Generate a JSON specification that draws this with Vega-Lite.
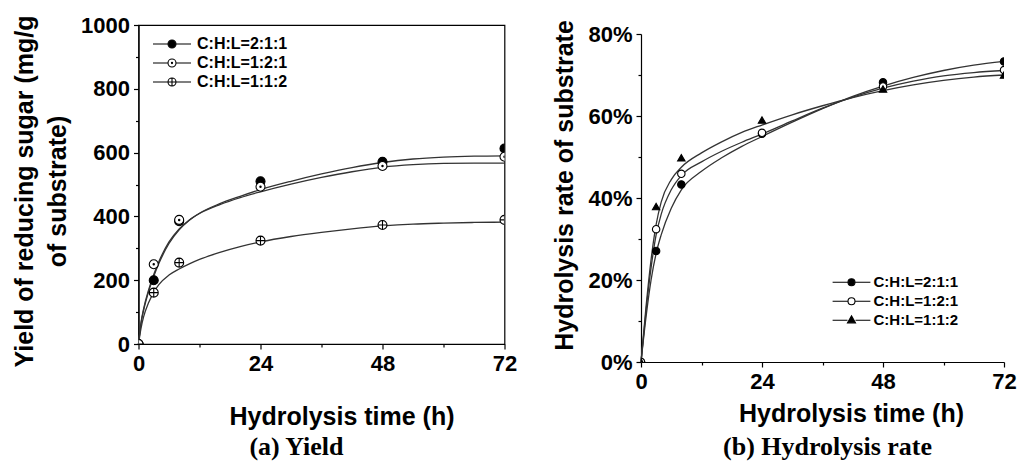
{
  "$schema": "https://vega.github.io/schema/vega-lite/v6.json",
  "background": "white",
  "padding": {"left": 11.5, "top": 13, "right": 5, "bottom": 0},
  "spacing": 27.5,
  "config": {
    "view": {"stroke": "black", "strokeWidth": 1.2},
    "axis": {
      "labelFont": "Liberation Sans", "labelFontWeight": "bold", "labelFontSize": 22, "labelColor": "black",
      "titleFont": "Liberation Sans", "titleFontWeight": "bold", "titleFontSize": 25, "titleColor": "black",
      "domainColor": "black", "domainWidth": 1.2, "tickColor": "black", "tickWidth": 1.2,
      "grid": false, "labelOverlap": false, "labelFlush": false, "labelBound": false
    }
  },
  "datasets": {
    "yieldPts": [
      {"s": "C:H:L=2:1:1", "t": 0, "v": 0}, {"s": "C:H:L=2:1:1", "t": 3, "v": 200}, {"s": "C:H:L=2:1:1", "t": 8, "v": 385}, {"s": "C:H:L=2:1:1", "t": 24, "v": 510}, {"s": "C:H:L=2:1:1", "t": 48, "v": 571}, {"s": "C:H:L=2:1:1", "t": 72, "v": 613},
      {"s": "C:H:L=1:2:1", "t": 0, "v": 0}, {"s": "C:H:L=1:2:1", "t": 3, "v": 250}, {"s": "C:H:L=1:2:1", "t": 8, "v": 389}, {"s": "C:H:L=1:2:1", "t": 24, "v": 493}, {"s": "C:H:L=1:2:1", "t": 48, "v": 558}, {"s": "C:H:L=1:2:1", "t": 72, "v": 587},
      {"s": "C:H:L=1:1:2", "t": 0, "v": 0}, {"s": "C:H:L=1:1:2", "t": 3, "v": 161}, {"s": "C:H:L=1:1:2", "t": 8, "v": 255}, {"s": "C:H:L=1:1:2", "t": 24, "v": 324}, {"s": "C:H:L=1:1:2", "t": 48, "v": 373}, {"s": "C:H:L=1:1:2", "t": 72, "v": 389}
    ],
    "yieldCurve": [
      {"s": "C:H:L=2:1:1", "t": 0, "v": 0}, {"s": "C:H:L=2:1:1", "t": 0.5, "v": 65}, {"s": "C:H:L=2:1:1", "t": 1, "v": 105}, {"s": "C:H:L=2:1:1", "t": 2, "v": 165}, {"s": "C:H:L=2:1:1", "t": 3, "v": 212}, {"s": "C:H:L=2:1:1", "t": 4, "v": 252}, {"s": "C:H:L=2:1:1", "t": 6, "v": 315}, {"s": "C:H:L=2:1:1", "t": 8, "v": 358}, {"s": "C:H:L=2:1:1", "t": 10, "v": 388}, {"s": "C:H:L=2:1:1", "t": 12, "v": 410}, {"s": "C:H:L=2:1:1", "t": 16, "v": 440}, {"s": "C:H:L=2:1:1", "t": 20, "v": 463}, {"s": "C:H:L=2:1:1", "t": 24, "v": 484}, {"s": "C:H:L=2:1:1", "t": 30, "v": 510}, {"s": "C:H:L=2:1:1", "t": 36, "v": 533}, {"s": "C:H:L=2:1:1", "t": 42, "v": 553}, {"s": "C:H:L=2:1:1", "t": 48, "v": 569}, {"s": "C:H:L=2:1:1", "t": 54, "v": 580}, {"s": "C:H:L=2:1:1", "t": 60, "v": 586}, {"s": "C:H:L=2:1:1", "t": 66, "v": 589}, {"s": "C:H:L=2:1:1", "t": 72, "v": 590},
      {"s": "C:H:L=1:2:1", "t": 0, "v": 0}, {"s": "C:H:L=1:2:1", "t": 0.5, "v": 68}, {"s": "C:H:L=1:2:1", "t": 1, "v": 110}, {"s": "C:H:L=1:2:1", "t": 2, "v": 170}, {"s": "C:H:L=1:2:1", "t": 3, "v": 218}, {"s": "C:H:L=1:2:1", "t": 4, "v": 258}, {"s": "C:H:L=1:2:1", "t": 6, "v": 320}, {"s": "C:H:L=1:2:1", "t": 8, "v": 361}, {"s": "C:H:L=1:2:1", "t": 10, "v": 389}, {"s": "C:H:L=1:2:1", "t": 12, "v": 409}, {"s": "C:H:L=1:2:1", "t": 16, "v": 437}, {"s": "C:H:L=1:2:1", "t": 20, "v": 459}, {"s": "C:H:L=1:2:1", "t": 24, "v": 477}, {"s": "C:H:L=1:2:1", "t": 30, "v": 501}, {"s": "C:H:L=1:2:1", "t": 36, "v": 522}, {"s": "C:H:L=1:2:1", "t": 42, "v": 540}, {"s": "C:H:L=1:2:1", "t": 48, "v": 554}, {"s": "C:H:L=1:2:1", "t": 54, "v": 562}, {"s": "C:H:L=1:2:1", "t": 60, "v": 566}, {"s": "C:H:L=1:2:1", "t": 66, "v": 567}, {"s": "C:H:L=1:2:1", "t": 72, "v": 567},
      {"s": "C:H:L=1:1:2", "t": 0, "v": 0}, {"s": "C:H:L=1:1:2", "t": 0.5, "v": 50}, {"s": "C:H:L=1:1:2", "t": 1, "v": 85}, {"s": "C:H:L=1:1:2", "t": 2, "v": 130}, {"s": "C:H:L=1:1:2", "t": 3, "v": 162}, {"s": "C:H:L=1:1:2", "t": 4, "v": 186}, {"s": "C:H:L=1:1:2", "t": 6, "v": 216}, {"s": "C:H:L=1:1:2", "t": 8, "v": 235}, {"s": "C:H:L=1:1:2", "t": 10, "v": 251}, {"s": "C:H:L=1:1:2", "t": 12, "v": 265}, {"s": "C:H:L=1:1:2", "t": 16, "v": 287}, {"s": "C:H:L=1:1:2", "t": 20, "v": 305}, {"s": "C:H:L=1:1:2", "t": 24, "v": 320}, {"s": "C:H:L=1:1:2", "t": 30, "v": 337}, {"s": "C:H:L=1:1:2", "t": 36, "v": 350}, {"s": "C:H:L=1:1:2", "t": 42, "v": 361}, {"s": "C:H:L=1:1:2", "t": 48, "v": 370}, {"s": "C:H:L=1:1:2", "t": 54, "v": 376}, {"s": "C:H:L=1:1:2", "t": 60, "v": 379}, {"s": "C:H:L=1:1:2", "t": 66, "v": 381}, {"s": "C:H:L=1:1:2", "t": 72, "v": 382}
    ],
    "ratePts": [
      {"s": "C:H:L=2:1:1", "t": 0, "v": 0}, {"s": "C:H:L=2:1:1", "t": 3, "v": 0.271}, {"s": "C:H:L=2:1:1", "t": 8, "v": 0.433}, {"s": "C:H:L=2:1:1", "t": 24, "v": 0.557}, {"s": "C:H:L=2:1:1", "t": 48, "v": 0.682}, {"s": "C:H:L=2:1:1", "t": 72, "v": 0.733},
      {"s": "C:H:L=1:2:1", "t": 0, "v": 0}, {"s": "C:H:L=1:2:1", "t": 3, "v": 0.324}, {"s": "C:H:L=1:2:1", "t": 8, "v": 0.459}, {"s": "C:H:L=1:2:1", "t": 24, "v": 0.559}, {"s": "C:H:L=1:2:1", "t": 48, "v": 0.672}, {"s": "C:H:L=1:2:1", "t": 72, "v": 0.712},
      {"s": "C:H:L=1:1:2", "t": 0, "v": 0}, {"s": "C:H:L=1:1:2", "t": 3, "v": 0.379}, {"s": "C:H:L=1:1:2", "t": 8, "v": 0.498}, {"s": "C:H:L=1:1:2", "t": 24, "v": 0.59}, {"s": "C:H:L=1:1:2", "t": 48, "v": 0.666}, {"s": "C:H:L=1:1:2", "t": 72, "v": 0.70}
    ],
    "rateCurve": [
      {"s": "C:H:L=2:1:1", "t": 0, "v": 0}, {"s": "C:H:L=2:1:1", "t": 1, "v": 0.11}, {"s": "C:H:L=2:1:1", "t": 2, "v": 0.20}, {"s": "C:H:L=2:1:1", "t": 3, "v": 0.265}, {"s": "C:H:L=2:1:1", "t": 4, "v": 0.31}, {"s": "C:H:L=2:1:1", "t": 6, "v": 0.375}, {"s": "C:H:L=2:1:1", "t": 8, "v": 0.42}, {"s": "C:H:L=2:1:1", "t": 12, "v": 0.465}, {"s": "C:H:L=2:1:1", "t": 16, "v": 0.498}, {"s": "C:H:L=2:1:1", "t": 20, "v": 0.526}, {"s": "C:H:L=2:1:1", "t": 24, "v": 0.55}, {"s": "C:H:L=2:1:1", "t": 30, "v": 0.585}, {"s": "C:H:L=2:1:1", "t": 36, "v": 0.618}, {"s": "C:H:L=2:1:1", "t": 42, "v": 0.648}, {"s": "C:H:L=2:1:1", "t": 48, "v": 0.673}, {"s": "C:H:L=2:1:1", "t": 54, "v": 0.694}, {"s": "C:H:L=2:1:1", "t": 60, "v": 0.711}, {"s": "C:H:L=2:1:1", "t": 66, "v": 0.724}, {"s": "C:H:L=2:1:1", "t": 72, "v": 0.733},
      {"s": "C:H:L=1:2:1", "t": 0, "v": 0}, {"s": "C:H:L=1:2:1", "t": 1, "v": 0.125}, {"s": "C:H:L=1:2:1", "t": 2, "v": 0.23}, {"s": "C:H:L=1:2:1", "t": 3, "v": 0.31}, {"s": "C:H:L=1:2:1", "t": 4, "v": 0.36}, {"s": "C:H:L=1:2:1", "t": 6, "v": 0.42}, {"s": "C:H:L=1:2:1", "t": 8, "v": 0.455}, {"s": "C:H:L=1:2:1", "t": 12, "v": 0.488}, {"s": "C:H:L=1:2:1", "t": 16, "v": 0.514}, {"s": "C:H:L=1:2:1", "t": 20, "v": 0.536}, {"s": "C:H:L=1:2:1", "t": 24, "v": 0.556}, {"s": "C:H:L=1:2:1", "t": 30, "v": 0.588}, {"s": "C:H:L=1:2:1", "t": 36, "v": 0.619}, {"s": "C:H:L=1:2:1", "t": 42, "v": 0.646}, {"s": "C:H:L=1:2:1", "t": 48, "v": 0.668}, {"s": "C:H:L=1:2:1", "t": 54, "v": 0.685}, {"s": "C:H:L=1:2:1", "t": 60, "v": 0.698}, {"s": "C:H:L=1:2:1", "t": 66, "v": 0.706}, {"s": "C:H:L=1:2:1", "t": 72, "v": 0.711},
      {"s": "C:H:L=1:1:2", "t": 0, "v": 0}, {"s": "C:H:L=1:1:2", "t": 1, "v": 0.135}, {"s": "C:H:L=1:1:2", "t": 2, "v": 0.25}, {"s": "C:H:L=1:1:2", "t": 3, "v": 0.335}, {"s": "C:H:L=1:1:2", "t": 4, "v": 0.39}, {"s": "C:H:L=1:1:2", "t": 6, "v": 0.445}, {"s": "C:H:L=1:1:2", "t": 8, "v": 0.475}, {"s": "C:H:L=1:1:2", "t": 12, "v": 0.51}, {"s": "C:H:L=1:1:2", "t": 16, "v": 0.537}, {"s": "C:H:L=1:1:2", "t": 20, "v": 0.56}, {"s": "C:H:L=1:1:2", "t": 24, "v": 0.578}, {"s": "C:H:L=1:1:2", "t": 30, "v": 0.603}, {"s": "C:H:L=1:1:2", "t": 36, "v": 0.625}, {"s": "C:H:L=1:1:2", "t": 42, "v": 0.645}, {"s": "C:H:L=1:1:2", "t": 48, "v": 0.662}, {"s": "C:H:L=1:1:2", "t": 54, "v": 0.676}, {"s": "C:H:L=1:1:2", "t": 60, "v": 0.687}, {"s": "C:H:L=1:1:2", "t": 66, "v": 0.695}, {"s": "C:H:L=1:1:2", "t": 72, "v": 0.70}
    ]
  },
  "hconcat": [
    {
      "width": 366, "height": 319,
      "title": {"text": "(a) Yield", "orient": "bottom", "font": "Liberation Serif", "fontSize": 26, "fontWeight": "bold", "color": "black", "dx": -25, "offset": 5},
      "encoding": {
        "x": {"field": "t", "type": "quantitative", "scale": {"domain": [0, 72], "nice": false, "zero": false},
          "axis": {"title": "Hydrolysis time (h)", "values": [0, 12, 24, 36, 48, 60, 72],
            "labelExpr": "datum.value % 24 === 0 ? datum.label : ''",
            "tickSize": {"condition": {"test": "datum.value % 24 === 0", "value": 5}, "value": 3},
            "labelPadding": 4, "titlePadding": 30, "titleX": 203}},
        "y": {"field": "v", "type": "quantitative", "scale": {"domain": [0, 1000], "nice": false},
          "axis": {"title": ["Yield of reducing sugar (mg/g", "of substrate)"], "format": "d",
            "values": [0, 100, 200, 300, 400, 500, 600, 700, 800, 900, 1000],
            "labelExpr": "datum.value % 200 === 0 ? datum.label : ''",
            "tickSize": {"condition": {"test": "datum.value % 200 === 0", "value": 5}, "value": 3},
            "labelPadding": 4, "titlePadding": 10, "titleLineHeight": 33, "titleY": 166}}
      },
      "layer": [
        {"data": {"name": "yieldCurve"}, "mark": {"type": "line", "interpolate": "monotone", "color": "#333333", "strokeWidth": 1.3},
          "encoding": {"detail": {"field": "s", "type": "nominal"}}},
        {"data": {"name": "yieldPts"}, "mark": {"type": "point", "stroke": "black", "strokeWidth": 1.1, "opacity": 1, "clip": true, "size": 81},
          "encoding": {
            "shape": {"field": "s", "type": "nominal", "legend": null, "scale": {"domain": ["C:H:L=2:1:1", "C:H:L=1:2:1", "C:H:L=1:1:2"],
              "range": ["circle", "M-1,0A1,1,0,1,1,1,0A1,1,0,1,1,-1,0ZM-0.15,0A0.15,0.15,0,1,1,0.15,0A0.15,0.15,0,1,1,-0.15,0Z", "M-1,0A1,1,0,1,1,1,0A1,1,0,1,1,-1,0ZM-1,0L1,0M0,-1L0,1"]}},
            "fill": {"field": "s", "type": "nominal", "legend": null, "scale": {"domain": ["C:H:L=2:1:1", "C:H:L=1:2:1", "C:H:L=1:1:2"], "range": ["black", "white", "white"]}}
          }},
        {"data": {"name": "yieldPts"}, "mark": {"type": "point", "strokeWidth": 1.1, "opacity": 0, "size": 64},
          "encoding": {
            "shape": {"field": "s", "type": "nominal", "scale": {"domain": ["C:H:L=2:1:1", "C:H:L=1:2:1", "C:H:L=1:1:2"],
              "range": ["M-4.75,0L-1,0M1,0L4.75,0M-1,0A1,1,0,1,1,1,0A1,1,0,1,1,-1,0Z", "M-4.75,0L-1,0M1,0L4.75,0M-1,0A1,1,0,1,1,1,0A1,1,0,1,1,-1,0ZM-0.15,0A0.15,0.15,0,1,1,0.15,0A0.15,0.15,0,1,1,-0.15,0Z", "M-4.75,0L-1,0M1,0L4.75,0M-1,0A1,1,0,1,1,1,0A1,1,0,1,1,-1,0ZM-1,0L1,0M0,-1L0,1"]},
              "legend": {"title": null, "orient": "none", "legendX": 25.5, "legendY": 11, "padding": 0, "labelFont": "Liberation Sans", "labelFontSize": 16, "labelFontWeight": "bold", "labelColor": "black", "symbolSize": 64, "symbolStrokeWidth": 1.1, "symbolOpacity": 1, "labelOffset": 17, "rowPadding": 3}},
            "fill": {"field": "s", "type": "nominal", "scale": {"domain": ["C:H:L=2:1:1", "C:H:L=1:2:1", "C:H:L=1:1:2"], "range": ["black", "white", "white"]},
              "legend": {"title": null, "orient": "none", "legendX": 25.5, "legendY": 11, "padding": 0, "labelFont": "Liberation Sans", "labelFontSize": 16, "labelFontWeight": "bold", "labelColor": "black", "symbolSize": 64, "symbolStrokeWidth": 1.1, "symbolOpacity": 1, "labelOffset": 17, "rowPadding": 3}},
            "stroke": {"field": "s", "type": "nominal", "scale": {"domain": ["C:H:L=2:1:1", "C:H:L=1:2:1", "C:H:L=1:1:2"], "range": ["black", "black", "black"]},
              "legend": {"title": null, "orient": "none", "legendX": 25.5, "legendY": 11, "padding": 0, "labelFont": "Liberation Sans", "labelFontSize": 16, "labelFontWeight": "bold", "labelColor": "black", "symbolSize": 64, "symbolStrokeWidth": 1.1, "symbolOpacity": 1, "labelOffset": 17, "rowPadding": 3}}
          }}
      ],
      "resolve": {"scale": {"shape": "independent", "fill": "independent", "stroke": "independent"}, "legend": {"shape": "independent", "fill": "independent", "stroke": "independent"}}
    },
    {
      "width": 363, "height": 337,
      "view": {"stroke": null},
      "title": {"text": "(b) Hydrolysis rate", "orient": "bottom", "font": "Liberation Serif", "fontSize": 26, "fontWeight": "bold", "color": "black", "dx": 5, "offset": 8},
      "encoding": {
        "x": {"field": "t", "type": "quantitative", "scale": {"domain": [0, 72], "nice": false, "zero": false},
          "axis": {"title": "Hydrolysis time (h)", "values": [0, 12, 24, 36, 48, 60, 72],
            "labelExpr": "datum.value % 24 === 0 ? datum.label : ''",
            "tickSize": {"condition": {"test": "datum.value % 24 === 0", "value": 5}, "value": 3},
            "labelPadding": 4, "titlePadding": 9, "titleX": 210}},
        "y": {"field": "v", "type": "quantitative", "scale": {"domain": [0, 0.8], "nice": false, "range": [337, 9]},
          "axis": {"title": "Hydrolysis rate of substrate", "format": ".0%",
            "values": [0, 0.1, 0.2, 0.3, 0.4, 0.5, 0.6, 0.7, 0.8],
            "labelExpr": "round(datum.value * 100) % 20 === 0 ? datum.label : ''",
            "tickSize": {"condition": {"test": "round(datum.value * 100) % 20 === 0", "value": 5}, "value": 3},
            "labelPadding": 4, "titlePadding": 10, "titleY": 160}}
      },
      "layer": [
        {"data": {"values": [{"edge": "top"}]}, "mark": {"type": "rule", "color": "black", "strokeWidth": 1.2},
          "encoding": {"y": {"datum": 0.8}, "x": {"datum": 0}, "x2": {"datum": 72}}},
        {"data": {"values": [{"edge": "right"}]}, "mark": {"type": "rule", "color": "black", "strokeWidth": 1.2},
          "encoding": {"x": {"datum": 72}, "y": {"datum": 0}, "y2": {"datum": 0.8}}},
        {"data": {"name": "rateCurve"}, "mark": {"type": "line", "interpolate": "monotone", "color": "#333333", "strokeWidth": 1.3},
          "encoding": {"detail": {"field": "s", "type": "nominal"}}},
        {"data": {"name": "ratePts"}, "mark": {"type": "point", "stroke": "black", "strokeWidth": 1.1, "opacity": 1, "clip": true, "size": 55},
          "encoding": {
            "shape": {"field": "s", "type": "nominal", "legend": null, "scale": {"domain": ["C:H:L=2:1:1", "C:H:L=1:2:1", "C:H:L=1:1:2"], "range": ["circle", "circle", "triangle-up"]}},
            "fill": {"field": "s", "type": "nominal", "legend": null, "scale": {"domain": ["C:H:L=2:1:1", "C:H:L=1:2:1", "C:H:L=1:1:2"], "range": ["black", "white", "black"]}}
          }},
        {"data": {"name": "ratePts"}, "mark": {"type": "point", "strokeWidth": 1.1, "opacity": 0, "size": 49},
          "encoding": {
            "shape": {"field": "s", "type": "nominal", "scale": {"domain": ["C:H:L=2:1:1", "C:H:L=1:2:1", "C:H:L=1:1:2"],
              "range": ["M-5.4,0L-1,0M1,0L5.4,0M-1,0A1,1,0,1,1,1,0A1,1,0,1,1,-1,0Z", "M-5.4,0L-1,0M1,0L5.4,0M-1,0A1,1,0,1,1,1,0A1,1,0,1,1,-1,0Z", "M-5.4,0L-1.15,0M1.15,0L5.4,0M0,-1.25L1.15,0.75L-1.15,0.75Z"]},
              "legend": {"title": null, "orient": "none", "legendX": 203, "legendY": 249.7, "padding": 0, "labelFont": "Liberation Sans", "labelFontSize": 15, "labelFontWeight": "bold", "labelColor": "black", "symbolSize": 49, "symbolStrokeWidth": 1.1, "symbolOpacity": 1, "labelOffset": 14.5, "rowPadding": 3}},
            "fill": {"field": "s", "type": "nominal", "scale": {"domain": ["C:H:L=2:1:1", "C:H:L=1:2:1", "C:H:L=1:1:2"], "range": ["black", "white", "black"]},
              "legend": {"title": null, "orient": "none", "legendX": 203, "legendY": 249.7, "padding": 0, "labelFont": "Liberation Sans", "labelFontSize": 15, "labelFontWeight": "bold", "labelColor": "black", "symbolSize": 49, "symbolStrokeWidth": 1.1, "symbolOpacity": 1, "labelOffset": 14.5, "rowPadding": 3}},
            "stroke": {"field": "s", "type": "nominal", "scale": {"domain": ["C:H:L=2:1:1", "C:H:L=1:2:1", "C:H:L=1:1:2"], "range": ["black", "black", "black"]},
              "legend": {"title": null, "orient": "none", "legendX": 203, "legendY": 249.7, "padding": 0, "labelFont": "Liberation Sans", "labelFontSize": 15, "labelFontWeight": "bold", "labelColor": "black", "symbolSize": 49, "symbolStrokeWidth": 1.1, "symbolOpacity": 1, "labelOffset": 14.5, "rowPadding": 3}}
          }}
      ],
      "resolve": {"scale": {"shape": "independent", "fill": "independent", "stroke": "independent"}, "legend": {"shape": "independent", "fill": "independent", "stroke": "independent"}}
    }
  ]
}
